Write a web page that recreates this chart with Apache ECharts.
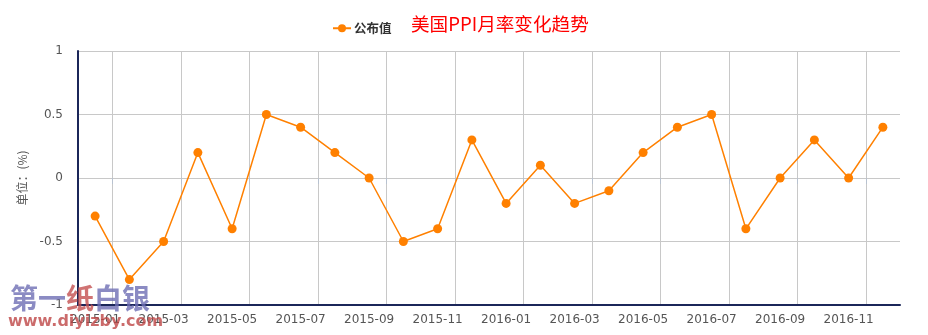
<!DOCTYPE html>
<html>
<head>
<meta charset="utf-8">
<script src="https://cdn.jsdelivr.net/npm/echarts@6/dist/echarts.min.js"></script>
<style>
html,body{margin:0;padding:0;background:#fff;}
#chart{width:928px;height:335px;}
</style>
</head>
<body>
<div id="chart"></div>
<script>
const categories = ['2015-01','2015-02','2015-03','2015-04','2015-05','2015-06','2015-07','2015-08','2015-09','2015-10','2015-11','2015-12',
  '2016-01','2016-02','2016-03','2016-04','2016-05','2016-06','2016-07','2016-08','2016-09','2016-10','2016-11','2016-12'];
const values = [-0.3,-0.8,-0.5,0.2,-0.4,0.5,0.4,0.2,0.0,-0.5,-0.4,0.3,
  -0.2,0.1,-0.2,-0.1,0.2,0.4,0.5,-0.4,0.0,0.3,0.0,0.4];
const seriesName = '公布值';
const titleText = '美国PPI月率变化趋势';
const yAxisName = '单位：(%)';
// helper axis: one entry per band boundary of the category axis (for grid lines between months)
const boundaries = categories.map((c, i) => String(i)).concat([String(categories.length)]);

const chart = echarts.init(document.getElementById('chart'));
const font = '"Noto Sans CJK SC", "Noto Sans", sans-serif';
const labelFont = '"DejaVu Sans", sans-serif';
chart.setOption({
  animation: false,
  textStyle: {fontFamily: font},
  title: {
    text: titleText, left: 406, top: 10,
    textStyle: {color: '#ff0000', fontSize: 18.6, fontWeight: 'normal', fontFamily: font}
  },
  legend: {
    data: [seriesName], left: 327, top: 17,
    itemWidth: 18, itemHeight: 10, itemGap: 3,
    textStyle: {color: '#333', fontWeight: 'bold', fontSize: 12.5, fontFamily: font, padding: [0,0,0,-2]}
  },
  grid: {left: 78, right: 28, top: 51, bottom: 30},
  xAxis: [{
    type: 'category', data: categories, boundaryGap: true,
    axisLine: {onZero: false, lineStyle: {color: '#1b2659', width: 2}},
    axisTick: {show: false},
    splitLine: {show: false},
    axisLabel: {interval: (i) => i % 2 === 0, color: '#555', fontSize: 12, margin: 9, fontFamily: labelFont},
    z: 3
  }, {
    type: 'category', data: boundaries, boundaryGap: false, position: 'bottom',
    axisLine: {show: false},
    axisLabel: {show: false},
    axisTick: {show: true, length: 6, interval: (i) => i % 2 === 1, lineStyle: {color: '#b8c2d0'}},
    splitLine: {show: true, interval: (i) => i % 2 === 1, lineStyle: {color: '#c8c8c8'}},
    z: 1
  }],
  yAxis: {
    type: 'value', min: -1, max: 1, interval: 0.5,
    name: yAxisName, nameLocation: 'middle', nameGap: 46,
    nameTextStyle: {color: '#555', fontSize: 12, fontFamily: font},
    axisLine: {show: true, lineStyle: {color: '#1b2659', width: 2}},
    axisTick: {show: false},
    splitLine: {lineStyle: {color: '#c8c8c8'}},
    axisLabel: {color: '#555', fontSize: 12, margin: 15, fontFamily: labelFont}
  },
  series: [{
    name: seriesName, type: 'line', data: values, xAxisIndex: 0,
    symbol: 'circle', symbolSize: 9,
    itemStyle: {color: '#ff8000'},
    lineStyle: {color: '#ff8000', width: 1.5}
  }],
  graphic: [
    {type: 'text', left: 10, top: 284, z: 100, style: {text: '第一', fill: 'rgba(110,110,180,0.8)', font: 'bold 28px "Noto Sans CJK SC"'}},
    {type: 'text', left: 66, top: 284, z: 100, style: {text: '纸', fill: 'rgba(196,80,80,0.8)', font: 'bold 28px "Noto Sans CJK SC"'}},
    {type: 'text', left: 94, top: 284, z: 100, style: {text: '白银', fill: 'rgba(110,110,180,0.8)', font: 'bold 28px "Noto Sans CJK SC"'}},
    {type: 'text', left: 8, top: 314, z: 100, style: {text: 'www.diyizby.com', fill: 'rgba(190,70,70,0.8)', font: 'bold 16px "DejaVu Sans"'}}
  ]
});
</script>
</body>
</html>
